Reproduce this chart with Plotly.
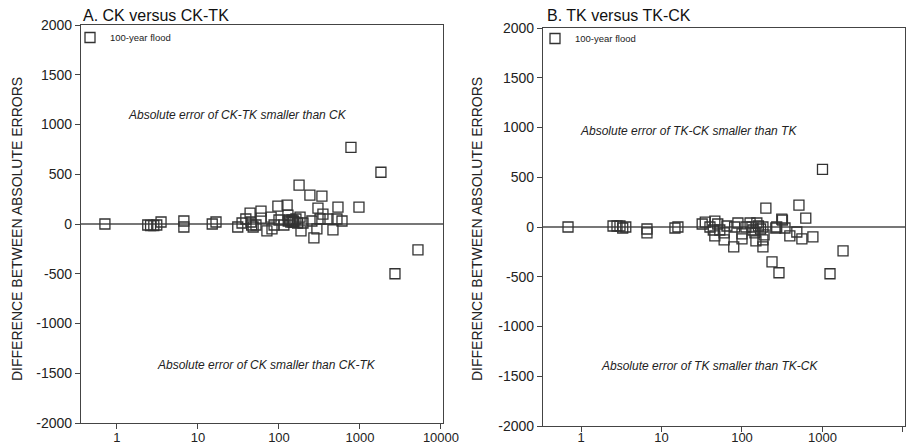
import plotly.graph_objects as go

# Panel A: CK versus CK-TK  (x = drainage area, y = difference between absolute errors)
ck_x = [0.71, 2.4, 2.6, 2.85, 3.1, 3.5, 6.7, 6.7, 15, 16.7,
        31, 35, 39, 44, 45, 46, 48, 52, 60, 60,
        71, 80, 82, 87, 97, 100, 115, 126, 129, 130,
        135, 140, 145, 149, 150, 153, 162, 170, 177, 182,
        187, 198, 241, 255, 270, 294, 303, 321, 339, 349,
        403, 464, 520, 535, 600, 774, 972, 1815, 2705, 5200]
ck_y = [0, -10, -15, -15, -10, 20, 30, -30, 0, 20,
        -30, 10, 50, 110, 20, -10, -30, -10, 130, 60,
        -70, 70, -50, -10, 180, 40, -10, 190, 90, 30,
        40, 20, 40, 20, 30, 20, 50, 10, 390, 70,
        -70, 10, 290, 30, -140, -50, 160, 50, 280, 100,
        50, -60, 50, 170, 30, 770, 170, 520, -500, -260]

# Panel B: TK versus TK-CK
tk_x = [0.69, 2.5, 2.8, 3.05, 3.3, 3.6, 6.6, 6.6, 14.7, 16,
        32, 35, 40, 44, 46, 46, 50, 53, 60, 60,
        65, 79, 81, 89, 100, 100, 112, 126, 133, 137,
        145, 149, 153, 160, 170, 182, 188, 182, 182, 198,
        236, 263, 270, 288, 312, 318, 342, 393, 480, 510,
        555, 620, 760, 1000, 1240, 1800]
tk_y = [0, 10, 10, 10, -10, 0, -20, -60, -10, 0,
        30, 50, 0, -30, 60, -90, 30, -30, -60, -130,
        10, -200, 0, 40, -70, -120, 0, 40, 0, -30,
        -60, -140, 40, 10, -20, 0, -80, -130, -200, 190,
        -350, -10, 0, -460, 80, 70, -10, -90, -50, 220,
        -120, 90, -100, 580, -470, -240]

y_ticks = [-2000, -1500, -1000, -500, 0, 500, 1000, 1500, 2000]
y_ticklabels = ["-2000", "-1500", "-1000", "-500", "0", "500", "1000", "1500", "2000"]
x_ticks = [1, 10, 100, 1000, 10000]
x_ticklabels = ["1", "10", "100", "1000", "10000"]

FONT = "Liberation Sans, Arial, sans-serif"
# the page body keeps its 8px margin: positions below are window pixels minus 8,
# and the figure runs past the window bottom so the x labels are not clipped
W, H = 904, 445

fig = go.Figure()

marker = dict(symbol="square-open", size=10, color="#333333", line=dict(width=1.3))

fig.add_trace(go.Scatter(x=ck_x, y=ck_y, mode="markers", name="100-year flood",
                         marker=marker, xaxis="x", yaxis="y", legend="legend"))
fig.add_trace(go.Scatter(x=tk_x, y=tk_y, mode="markers", name="100-year flood",
                         marker=marker, xaxis="x2", yaxis="y2", legend="legend2"))


def xaxis(domain, rng, anchor, standoff):
    return dict(type="log", domain=domain, range=rng, anchor=anchor, automargin=False,
                tickvals=x_ticks, ticktext=x_ticklabels,
                ticks="outside", ticklen=5, tickcolor="#444", ticklabelstandoff=standoff,
                showline=True, linecolor="#444", linewidth=1.2, mirror=True,
                showgrid=False, zeroline=False,
                tickfont=dict(family=FONT, size=13, color="#222"))


def yaxis(domain, anchor):
    return dict(domain=domain, range=[-2000, 2000], anchor=anchor, automargin=False,
                tickvals=y_ticks, ticktext=y_ticklabels,
                ticks="outside", ticklen=5, tickcolor="#444",
                showline=True, linecolor="#444", linewidth=1.2, mirror=True,
                showgrid=False, zeroline=True, zerolinecolor="#777",
                zerolinewidth=1.5,
                tickfont=dict(family=FONT, size=14, color="#222"))


def py(px):
    # window pixel row -> paper fraction
    return 1 - (px - 8) / H


def px_(px):
    # window pixel column -> paper fraction
    return (px - 8) / W


legend_style = dict(font=dict(family=FONT, size=9.5, color="#222"),
                    bgcolor="rgba(0,0,0,0)", xanchor="left", yanchor="top",
                    itemwidth=30, tracegroupgap=0)

fig.update_layout(
    template="none",
    width=W, height=H,
    margin=dict(l=0, r=0, t=0, b=0, pad=0),
    paper_bgcolor="white", plot_bgcolor="white",
    font=dict(family=FONT, color="#222"),
    showlegend=True,
    xaxis=xaxis([px_(81), px_(443)], [-0.444, 4.025], "y", -3),
    yaxis=yaxis([py(423), py(25)], "x"),
    xaxis2=xaxis([px_(543), px_(905)], [-0.472, 4.025], "y2", -6),
    yaxis2=yaxis([py(426), py(28)], "x2"),
    legend=dict(x=px_(70), y=py(23), **legend_style),
    legend2=dict(x=px_(535), y=py(24), **legend_style),
)

# panel titles
titles = [("A. CK versus CK-TK", 81), ("B. TK versus TK-CK", 545)]
for text, xpix in titles:
    fig.add_annotation(text=text, xref="paper", yref="paper", x=px_(xpix), y=py(16),
                       xanchor="left", yanchor="middle", showarrow=False,
                       font=dict(family=FONT, size=16, color="#111"))

# y axis titles
for xpix in [17, 477]:
    fig.add_annotation(text="DIFFERENCE BETWEEN ABSOLUTE ERRORS", xref="paper", yref="paper",
                       x=px_(xpix), y=py(229), textangle=-90, showarrow=False,
                       xanchor="center", yanchor="middle",
                       font=dict(family=FONT, size=14, color="#222"))

# region labels (italic)
notes = [
    ("Absolute error of CK-TK smaller than CK", "x", "y", 1.494, 1100),
    ("Absolute error of CK smaller than CK-TK", "x", "y", 1.85, -1420),
    ("Absolute error of TK-CK smaller than TK", "x2", "y2", 1.33, 960),
    ("Absolute error of TK smaller than TK-CK", "x2", "y2", 1.60, -1400),
]
for text, xr, yr, xv, yv in notes:
    fig.add_annotation(text="<i>" + text + "</i>", xref=xr, yref=yr, x=xv, y=yv,
                       showarrow=False, xanchor="center", yanchor="middle",
                       font=dict(family=FONT, size=12, color="#222"))

fig.write_html("out.html")
